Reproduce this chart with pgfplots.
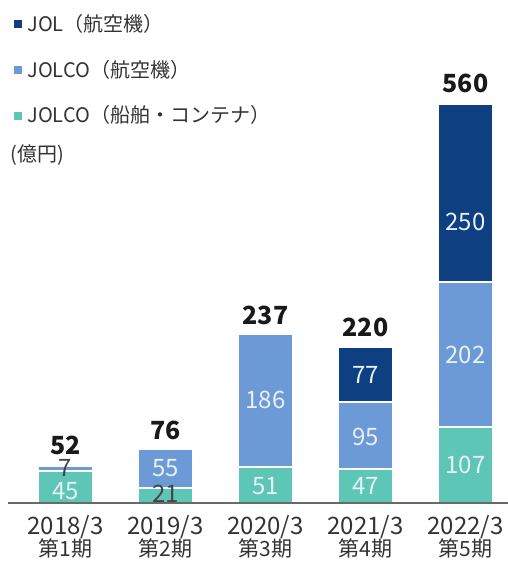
\documentclass[border=0pt]{standalone}
\usepackage{pgfplots}
\pgfplotsset{compat=1.18}
\usepackage{fontspec}
\setmainfont{Noto Sans CJK JP}
\definecolor{cNavy}{HTML}{0E3F80}
\definecolor{cBlue}{HTML}{6B9AD6}
\definecolor{cTeal}{HTML}{5EC6B6}
\definecolor{cText}{HTML}{333333}
\definecolor{cLabDark}{HTML}{444444}
\definecolor{cLabLight}{HTML}{E8F0F8}
\begin{document}
\begin{tikzpicture}
\useasboundingbox (-5pt,-29.5pt) rectangle (249pt,251.5pt);
\pgfplotsset{
  base/.style={
    x=50pt, y=0.35714pt,
    xmin=-0.555, xmax=4.425, ymin=0, ymax=700,
    scale only axis, clip=false,
  }
}
\begin{axis}[
  base,
  ybar stacked, bar width=27.5pt,
  axis y line=none,
  axis x line*=bottom,
  x axis line style={draw=none},
  xtick={0,1,2,3,4},
  xticklabels={},
  major tick length=0pt,
  legend cell align=left,
  reverse legend,
  legend style={draw=none, fill=none, at={(0.008,0.982)}, anchor=north west,
    font=\fontsize{10pt}{12pt}\selectfont\color{cText},
    row sep=10.8pt, inner sep=0pt,
    nodes={inner xsep=2.5pt, inner ysep=1pt}},
  legend image code/.code={\fill[#1,draw=none] (0pt,-2pt) rectangle (4pt,2pt);},
]
\addplot[fill=cTeal, draw=white, line width=1pt] coordinates {(0,45) (1,21) (2,51) (3,47) (4,107)};
\addplot[fill=cBlue, draw=white, line width=1pt] coordinates {(0,7) (1,55) (2,186) (3,95) (4,202)};
\addplot[fill=cNavy, draw=white, line width=1pt] coordinates {(0,0) (1,0) (2,0) (3,77) (4,250)};
\legend{JOLCO（船舶・コンテナ）, JOLCO（航空機）, JOL（航空機）}
\end{axis}
\begin{axis}[
  base,
  hide axis,
]
% baseline
\addplot[draw=cLabDark!80, line width=1pt] coordinates {(-0.575,0) (4.425,0)};
% white segment labels
\addplot[only marks, mark=none, nodes near coords, point meta=explicit symbolic,
  every node near coord/.style={anchor=center, text=cLabLight, font=\fontsize{12pt}{12pt}\selectfont}]
  table[meta=lab] {
x y lab
0 16.8 45
1 49 55
2 24 51
2 144 186
3 24 47
3 92 95
3 179 77
4 53 107
4 207 202
4 393 250
};
% dark segment labels
\addplot[only marks, mark=none, nodes near coords, point meta=explicit symbolic,
  every node near coord/.style={anchor=center, text=cLabDark, font=\fontsize{12pt}{12pt}\selectfont}]
  table[meta=lab] {
x y lab
0 49 7
1 12.6 21
};
% totals
\addplot[only marks, mark=none, nodes near coords, point meta=explicit symbolic,
  every node near coord/.style={anchor=center, text=black!90, font=\fontsize{12.5pt}{14pt}\selectfont\bfseries}]
  table[meta=lab] {
x y lab
0 80 52
1 102 76
2 263 237
3 246 220
4 587 560
};
% category labels
\addplot[only marks, mark=none, nodes near coords, point meta=explicit symbolic,
  every node near coord/.style={anchor=center, text=cText, font=\fontsize{12pt}{13pt}\selectfont}]
  table[meta=lab] {
x y lab
0 -33.5 2018/3
1 -33.5 2019/3
2 -33.5 2020/3
3 -33.5 2021/3
4 -33.5 2022/3
};
\addplot[only marks, mark=none, nodes near coords, point meta=explicit symbolic,
  every node near coord/.style={anchor=center, text=cText, font=\fontsize{10.5pt}{13pt}\selectfont}]
  table[meta=lab] {
x y lab
0 -64 第1期
1 -64 第2期
2 -64 第3期
3 -64 第4期
4 -64 第5期
};
\node[anchor=west, text=cText, font=\fontsize{10pt}{12pt}\selectfont, inner sep=0pt]
  at (axis cs:-0.555,487) {(億円)};
\end{axis}
\end{tikzpicture}
\end{document}
